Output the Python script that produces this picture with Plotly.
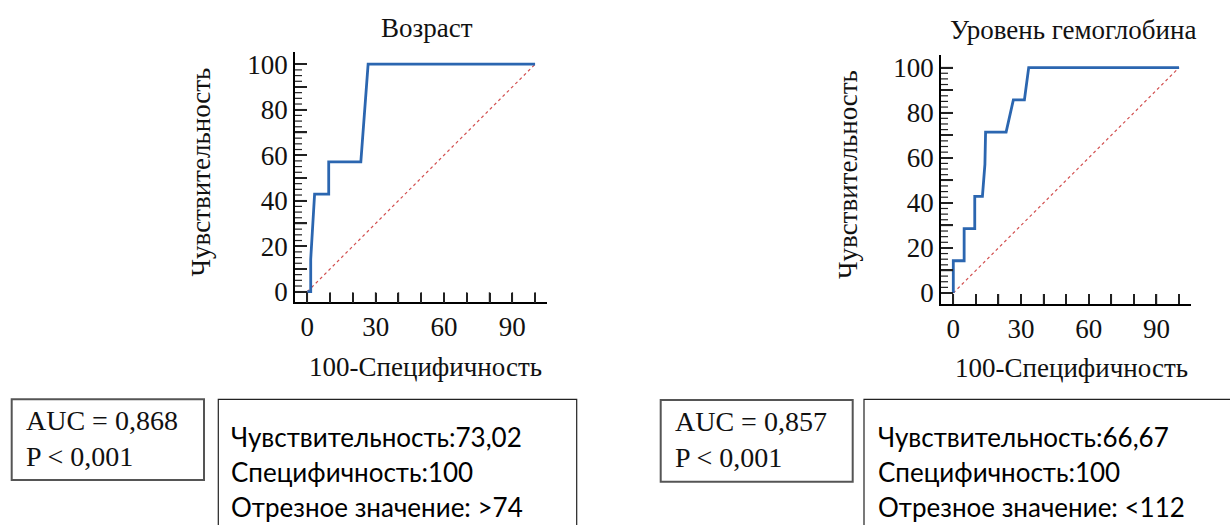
import plotly.graph_objects as go

W, H = 1230, 525

# ---- data ----
age_fpr = [0, 1.5, 1.5, 3.2, 9.4, 9.4, 23.5, 26.7, 100]
age_tpr = [0, 0, 14.3, 42.9, 42.9, 57.1, 57.1, 100, 100]

hb_fpr = [0, 0, 4.8, 4.8, 9.5, 9.5, 12.9, 14.0, 14.3, 23.4, 26.6, 31.5, 33.4, 100]
hb_tpr = [0, 14.3, 14.3, 28.6, 28.6, 42.9, 42.9, 57.1, 71.4, 71.4, 85.7, 85.7, 100, 100]

diag_x = [0, 100]
diag_y = [0, 100]

x_tickvals = [0, 10, 20, 30, 40, 50, 60, 70, 80, 90, 100]
x_ticktext = ["0", "", "", "30", "", "", "60", "", "", "90", ""]
y_tickvals = [0, 10, 20, 30, 40, 50, 60, 70, 80, 90, 100]
y_ticktext = ["0", "", "20", "", "40", "", "60", "", "80", "", "100"]
y_minorvals = [2.5, 5, 7.5, 12.5, 15, 17.5, 22.5, 25, 27.5, 32.5, 35, 37.5,
               42.5, 45, 47.5, 52.5, 55, 57.5, 62.5, 65, 67.5, 72.5, 75, 77.5,
               82.5, 85, 87.5, 92.5, 95, 97.5]

titles = ["Возраст", "Уровень гемоглобина"]
x_title = "100-Специфичность"
y_title = "Чувствительность"
auc_texts = ["AUC = 0,868<br>P < 0,001", "AUC = 0,857<br>P < 0,001"]
stat_lines = [
    ["Чувствительность:73,02", "Специфичность:100", "Отрезное значение: >74"],
    ["Чувствительность:66,67", "Специфичность:100", "Отрезное значение: <112"],
]

SERIF = "Liberation Serif"
SANS = "Lato"
BLUE = "#2b66b0"
RED = "rgba(205,60,60,0.9)"
TICK = "#222222"


def px(x):
    return x / W


def py(y):
    return 1 - y / H


panels = [
    dict(xa="x", ya="y", xpx=(295, 546.7), ypx=(302.3, 51.7),
         xr=[-5.4, 105.1], yr=[-4.66, 105.5], fpr=age_fpr, tpr=age_tpr),
    dict(xa="x2", ya="y2", xpx=(941, 1191), ypx=(304, 55),
         xr=[-5.45, 105.3], yr=[-4.88, 105.6], fpr=hb_fpr, tpr=hb_tpr),
]

fig = go.Figure()
tickfont = dict(family=SERIF, size=27, color="#111")
layout_axes = {}
shapes = []

for i, p in enumerate(panels):
    fig.add_trace(go.Scatter(x=diag_x, y=diag_y, mode="lines", xaxis=p["xa"], yaxis=p["ya"],
                             line=dict(color=RED, width=1.2, dash="dot"),
                             showlegend=False, hoverinfo="skip"))
    fig.add_trace(go.Scatter(x=p["fpr"], y=p["tpr"], mode="lines", xaxis=p["xa"], yaxis=p["ya"],
                             line=dict(color=BLUE, width=2.8), showlegend=False))

    xd = [px(p["xpx"][0]), px(p["xpx"][1])]
    yd = [py(p["ypx"][0]), py(p["ypx"][1])]

    def xmap(v, xd=xd, xr=p["xr"]):
        return xd[0] + (v - xr[0]) / (xr[1] - xr[0]) * (xd[1] - xd[0])

    def ymap(v, yd=yd, yr=p["yr"]):
        return yd[0] + (v - yr[0]) / (yr[1] - yr[0]) * (yd[1] - yd[0])

    # inward tick marks as shapes on top of everything
    for v in x_tickvals:
        shapes.append(dict(type="line", xref="paper", yref="paper", layer="above",
                           x0=xmap(v), x1=xmap(v), y0=yd[0], y1=yd[0] + 10 / H,
                           line=dict(color=TICK, width=1.5)))
    for v in y_tickvals:
        shapes.append(dict(type="line", xref="paper", yref="paper", layer="above",
                           x0=xd[0], x1=xd[0] + 12 / W, y0=ymap(v), y1=ymap(v),
                           line=dict(color=TICK, width=1.5)))
    for v in y_minorvals:
        shapes.append(dict(type="line", xref="paper", yref="paper", layer="above",
                           x0=xd[0], x1=xd[0] + 7 / W, y0=ymap(v), y1=ymap(v),
                           line=dict(color=TICK, width=1.2)))

    xkey = "xaxis" if i == 0 else "xaxis2"
    ykey = "yaxis" if i == 0 else "yaxis2"
    layout_axes[xkey] = dict(
        domain=xd, range=p["xr"], anchor=p["ya"],
        showgrid=False, zeroline=False, showline=True, linecolor="black", linewidth=1.5,
        ticks="inside", ticklen=10, tickwidth=1.5, tickcolor=TICK,
        tickmode="array", tickvals=x_tickvals, ticktext=x_ticktext,
        tickfont=tickfont)
    layout_axes[ykey] = dict(
        domain=yd, range=p["yr"], anchor=p["xa"],
        showgrid=False, zeroline=False, showline=True, linecolor="black", linewidth=1.5,
        ticks="inside", ticklen=12, tickwidth=1.5, tickcolor=TICK,
        tickmode="array", tickvals=y_tickvals, ticktext=y_ticktext,
        tickfont=tickfont)

fig.update_layout(
    template="none",
    width=W, height=H, autosize=False,
    margin=dict(l=0, r=0, t=0, b=0, pad=0),
    paper_bgcolor="white", plot_bgcolor="white",
    **layout_axes,
)

ann = []
title_font = dict(family=SERIF, size=27, color="#111")
ann.append(dict(text=titles[0], x=px(426.7), y=py(28), xanchor="center", yanchor="middle"))
ann.append(dict(text=titles[1], x=px(1072.5), y=py(30), xanchor="center", yanchor="middle"))
ann.append(dict(text=x_title, x=px(426), y=py(367), xanchor="center", yanchor="middle"))
ann.append(dict(text=x_title, x=px(1071), y=py(368), xanchor="center", yanchor="middle"))
ann.append(dict(text=y_title, x=px(201), y=py(172.5), xanchor="center", yanchor="middle", textangle=-90))
ann.append(dict(text=y_title, x=px(848), y=py(175), xanchor="center", yanchor="middle", textangle=-90))
for a in ann:
    a.update(xref="paper", yref="paper", showarrow=False, font=title_font)

box_font = dict(family=SERIF, size=28, color="#111")
for txt, x0, yc in [(auc_texts[0], 23.7, 438), (auc_texts[1], 673, 439.5)]:
    ann.append(dict(text=txt, x=px(x0), y=py(yc), xanchor="left", yanchor="middle",
                    xref="paper", yref="paper", showarrow=False, font=box_font,
                    align="left"))

stat_font = dict(family=SANS, size=26, color="black")
for lines, x0 in [(stat_lines[0], 229.2), (stat_lines[1], 875.8)]:
    for j, line in enumerate(lines):
        ann.append(dict(text=line, x=px(x0), y=py(436.7 + 35 * j), xanchor="left",
                        yanchor="middle", xref="paper", yref="paper", showarrow=False,
                        font=stat_font))

fig.update_layout(annotations=ann)

nofill = "rgba(0,0,0,0)"
shapes += [
    dict(type="rect", xref="paper", yref="paper", x0=px(11.7), x1=px(204), y0=py(480), y1=py(399.3),
         line=dict(color="#555", width=2), fillcolor=nofill),
    dict(type="rect", xref="paper", yref="paper", x0=px(218.3), x1=px(576.7), y0=py(540), y1=py(399.3),
         line=dict(color="#222", width=1.2), fillcolor=nofill),
    dict(type="rect", xref="paper", yref="paper", x0=px(660.7), x1=px(852.7), y0=py(481.7), y1=py(400),
         line=dict(color="#555", width=2), fillcolor=nofill),
    dict(type="rect", xref="paper", yref="paper", x0=px(864), x1=px(1240), y0=py(540), y1=py(399.3),
         line=dict(color="#222", width=1.2), fillcolor=nofill),
]
fig.update_layout(shapes=shapes)

fig.write_html("out.html", config={"displayModeBar": False},
               post_script="document.body.style.margin='0';document.body.style.padding='0';")
